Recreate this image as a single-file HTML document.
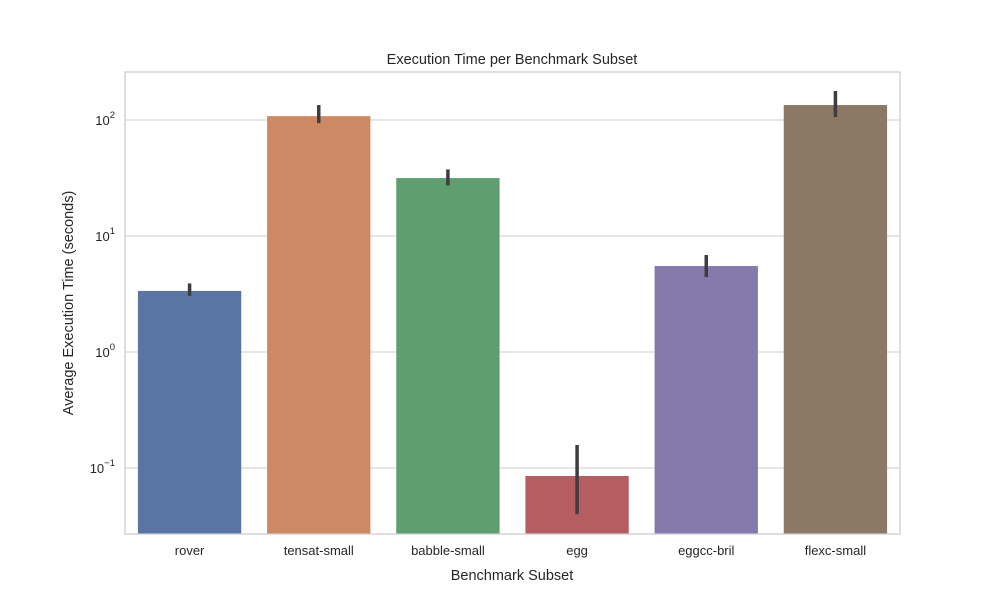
<!DOCTYPE html>
<html><head><meta charset="utf-8"><style>
body{margin:0;background:#fff;}
svg text{font-family:"Liberation Sans","DejaVu Sans",sans-serif;fill:#262626;}
</style></head><body>
<svg id="chart" width="1000" height="600" viewBox="0 0 1000 600" xmlns="http://www.w3.org/2000/svg">
<rect width="1000" height="600" fill="#fff"/>
<g id="grid"></g><g id="bars"></g><g id="errs"></g><g id="labels"></g>
<rect x="125" y="72" width="775" height="462" fill="none" stroke="#cccccc" stroke-width="1.25"/>
<text x="512" y="64" font-size="14.5" text-anchor="middle">Execution Time per Benchmark Subset</text>
<text x="512" y="580" font-size="14.5" text-anchor="middle">Benchmark Subset</text>
<text transform="translate(73,303) rotate(-90)" font-size="14.5" text-anchor="middle">Average Execution Time (seconds)</text>
</svg>
<script>
const categories=["rover","tensat-small","babble-small","egg","eggcc-bril","flexc-small"];
const values=[3.36,108,31.6,0.0853,5.51,134.6];
const errLow=[3.05,94,27.3,0.040,4.43,106];
const errHigh=[3.9,134.6,37.5,0.158,6.86,177.8];
const colors=["#5875a4","#cc8963","#5f9e6e","#b55d60","#857aab","#8d7866"];
const tickExps=[-1,0,1,2];
const NS="http://www.w3.org/2000/svg";
const L=125,R=900,T=72,B=534;
const yMin=-1.569,yMax=2.414;
function y(v){return B-(Math.log10(v)-yMin)/(yMax-yMin)*(B-T);}
const band=(R-L)/categories.length;
function x(i){return L+band*(i+0.5);}
function mk(tag,attrs,parent){const e=document.createElementNS(NS,tag);for(const k in attrs)e.setAttribute(k,attrs[k]);document.getElementById(parent).appendChild(e);return e;}
tickExps.forEach(ex=>{
  const yy=y(Math.pow(10,ex));
  const g=mk("line",{x1:L,x2:R,y1:yy,y2:yy,stroke:"#cccccc","stroke-width":1},"grid");
  
  
  const t=mk("text",{x:L-10,y:yy+5,"font-size":13,"text-anchor":"end"},"labels");
  
  
  t.innerHTML='10<tspan dy="-7" font-size="9.5">'+(ex<0?'\u2212'+(-ex):ex)+'</tspan>';
});
categories.forEach((c,i)=>{
  const bw=band*0.8, top=y(values[i]);
  const r=mk("rect",{x:x(i)-bw/2,y:top,width:bw,height:B-top,fill:colors[i]},"bars");
  
  
  const e=mk("line",{x1:x(i),x2:x(i),y1:y(errLow[i]),y2:y(errHigh[i]),stroke:"#3d3d3d","stroke-width":3.5},"errs");
  
  
  const t=mk("text",{x:x(i),y:B+21,"font-size":13,"text-anchor":"middle"},"labels");
  
  
  t.textContent=c;
});
</script>
</body></html>
